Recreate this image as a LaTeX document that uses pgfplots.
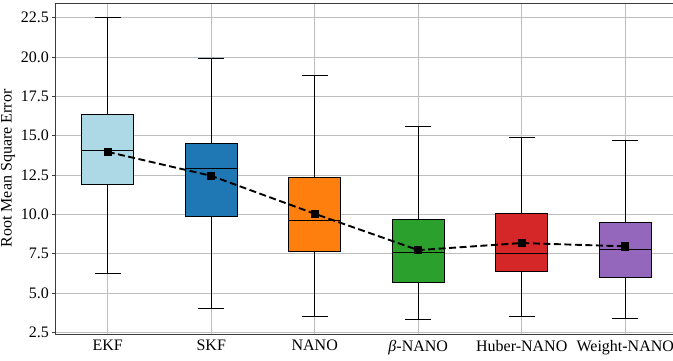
\documentclass[border=0pt]{standalone}
\usepackage{fontspec}
\setmainfont{Liberation Serif}
\usepackage{pgfplots}
\pgfplotsset{compat=1.18}
\usepgfplotslibrary{statistics}

\definecolor{cEKF}{RGB}{173,216,230}
\definecolor{cSKF}{HTML}{1F77B4}
\definecolor{cNANO}{HTML}{FF7F0E}
\definecolor{cBeta}{HTML}{2CA02C}
\definecolor{cHuber}{HTML}{D62728}
\definecolor{cWeight}{HTML}{9467BD}
\definecolor{gridgray}{RGB}{190,190,190}
\definecolor{spine}{RGB}{60,60,60}

\begin{document}
\begin{tikzpicture}
\begin{axis}[
  scale only axis,
  width=621pt, height=331pt,
  xmin=0.5, xmax=6.5,
  ymin=2.4, ymax=23.43,
  xtick={1,2,3,4,5,6},
  xticklabels={EKF,SKF,NANO,{\itshape β}-NANO,Huber-NANO,Weight-NANO},
  ytick={2.5,5,7.5,10,12.5,15,17.5,20,22.5},
  yticklabel style={/pgf/number format/.cd,fixed,fixed zerofill,precision=1,assume math mode=true},
  tick label style={font=\fontsize{16}{18}\selectfont},
  xticklabel style={yshift=1pt},
  ylabel={Root Mean Square Error},
  ylabel style={font=\fontsize{16}{18}\selectfont, yshift=-1pt},
  grid=major,
  major grid style={gridgray, line width=0.8pt},
  axis line style={spine, line width=1pt},
  tick align=outside,
  major tick length=3.5pt,
  tick style={spine, line width=0.8pt},
  xtick style={draw=none},
  boxplot/draw direction=y,
  boxplot/box extend=0.5,
  boxplot/whisker extend=0.25,
]
% EKF
\addplot[draw=black, fill=cEKF, line width=0.8pt, solid, mark=none,
  boxplot prepared={draw position=1, lower whisker=6.23, lower quartile=11.9,
    median=14.04, upper quartile=16.38, upper whisker=22.5}] coordinates {};
% SKF
\addplot[draw=black, fill=cSKF, line width=0.8pt, solid, mark=none,
  boxplot prepared={draw position=2, lower whisker=4.01, lower quartile=9.89,
    median=12.9, upper quartile=14.5, upper whisker=19.94}] coordinates {};
% NANO
\addplot[draw=black, fill=cNANO, line width=0.8pt, solid, mark=none,
  boxplot prepared={draw position=3, lower whisker=3.53, lower quartile=7.65,
    median=9.64, upper quartile=12.32, upper whisker=18.84}] coordinates {};
% beta-NANO
\addplot[draw=black, fill=cBeta, line width=0.8pt, solid, mark=none,
  boxplot prepared={draw position=4, lower whisker=3.30, lower quartile=5.68,
    median=7.56, upper quartile=9.68, upper whisker=15.56}] coordinates {};
% Huber-NANO
\addplot[draw=black, fill=cHuber, line width=0.8pt, solid, mark=none,
  boxplot prepared={draw position=5, lower whisker=3.53, lower quartile=6.4,
    median=7.5, upper quartile=10.04, upper whisker=14.89}] coordinates {};
% Weight-NANO
\addplot[draw=black, fill=cWeight, line width=0.8pt, solid, mark=none,
  boxplot prepared={draw position=6, lower whisker=3.40, lower quartile=5.98,
    median=7.75, upper quartile=9.51, upper whisker=14.67}] coordinates {};
% means
\addplot[black, line width=1.9pt, dash pattern=on 7pt off 3.5pt,
  mark=square*, mark size=3.7pt, mark options={solid, line width=0pt}]
  coordinates {(1,13.97) (2,12.45) (3,10.04) (4,7.73) (5,8.18) (6,7.97)};
\end{axis}
\pgfresetboundingbox
\path[use as bounding box]
  ([xshift=-56pt,yshift=-26pt]current axis.south west)
  rectangle ([xshift=-4pt,yshift=3pt]current axis.north east);
\end{tikzpicture}
\end{document}
